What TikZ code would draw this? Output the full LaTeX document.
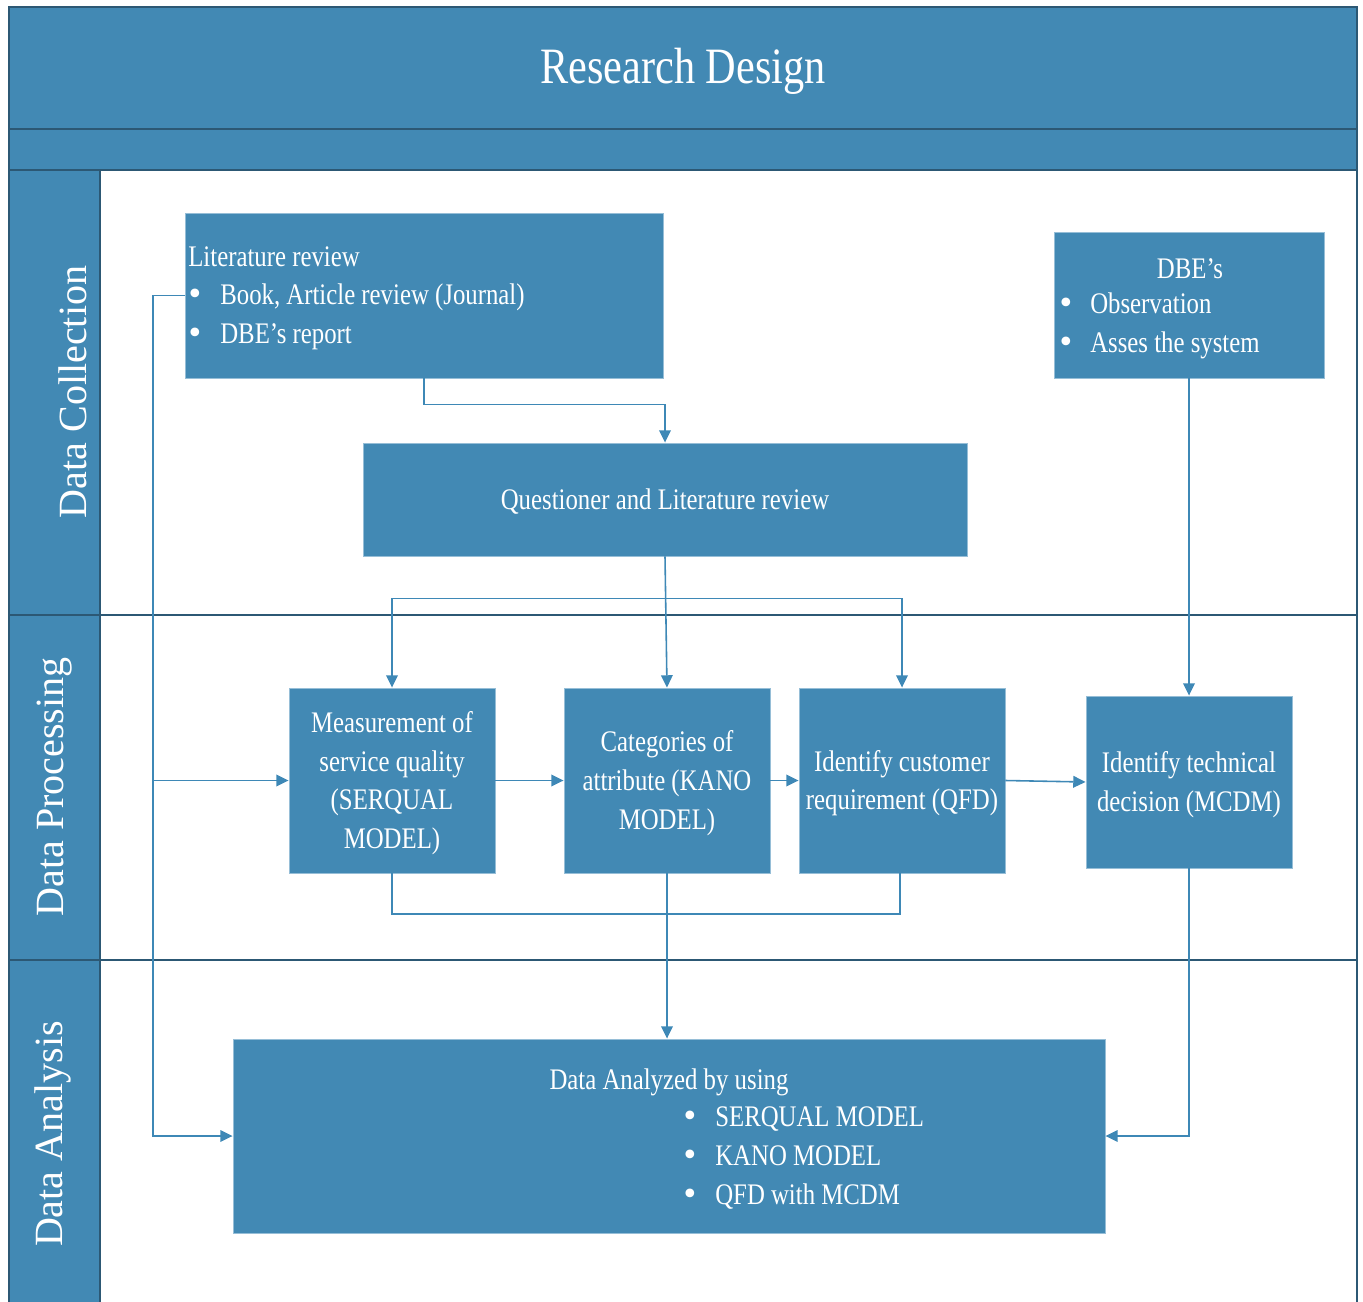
\documentclass[tikz,border=0pt]{standalone}
\usepackage{fontspec}
\setmainfont{Liberation Serif}
\newfontfamily\condfont[FakeStretch=0.83]{Liberation Serif}
\newfontfamily\bulfont{DejaVu Sans}
\usetikzlibrary{arrows.meta,calc}

\definecolor{boxblue}{RGB}{66,137,180}
\definecolor{framedark}{RGB}{44,88,116}
\definecolor{linkblue}{RGB}{62,136,182}
\definecolor{boxedge}{RGB}{150,190,215}

% round bullet with a fixed indent before the item text
\newcommand\bul[1]{\makebox[#1][l]{\hspace{-0.8pt}{\bulfont •}}}

\begin{document}
\begin{tikzpicture}[x=0.02cm,y=-0.02cm,
  sized/.style 2 args={minimum width=#1*0.02cm, minimum height=#2*0.02cm},
  stagebox/.style={rectangle, fill=boxblue, draw=boxedge, line width=0.5pt,
    inner sep=0pt},
  boxtext/.style={text=white, inner sep=0pt, align=center,
    font=\condfont\fontsize{17}{22}\selectfont},
  lanelabel/.style={rotate=90, text=white, inner sep=0pt,
    font=\fontsize{22.8}{24}\selectfont},
  link/.style={draw=linkblue, line width=0.9pt},
  tip/.style={-{Triangle[length=7pt,width=6.6pt]}},
]
\useasboundingbox (0,0) rectangle (1363,1302);

% header bands and lane column
\fill[boxblue] (9,7) rectangle (1357,170);
\fill[boxblue] (9,170) rectangle (100,1302);
\begin{scope}[draw=framedark, line width=0.9pt]
  \draw (9,1302) -- (9,7) -- (1357,7) -- (1357,1302);
  \draw (9,129) -- (1357,129);
  \draw (9,170) -- (1357,170);
  \draw (100,170) -- (100,1302);
  \draw (9,615) -- (1357,615);
  \draw (9,960) -- (1357,960);
\end{scope}

\node[text=white, inner sep=0pt, font=\condfont\fontsize{29}{30}\selectfont]
  (title) at (683,71) {Research Design};

\node[lanelabel] (lanecollect) at (73,392) {Data Collection};
\node[lanelabel] (laneprocess) at (55,787) {Data Processing};
\node[lanelabel] (laneanalysis) at (53,1134) {Data Analysis};

% stage boxes
\node[stagebox, sized={478}{165}] (lit) at (424,295.5) {};
\node[boxtext, anchor=west, align=left] (littext) at (188,298)
  {Literature review\\
   \bul{18.2pt}Book, Article review (Journal)\\
   \bul{18.2pt}DBE’s report};

\node[stagebox, sized={270}{146}] (dbe) at (1189,305) {};
\node[boxtext] (dbehead) at (1190,269) {DBE’s};
\node[boxtext, anchor=west, align=left] (dbetext) at (1059,326)
  {\bul{17.6pt}Observation\\ \bul{17.6pt}Asses the system};

\node[stagebox, sized={604}{113}] (quest) at (665,499.5) {};
\node[boxtext] (questtext) at (665,502) {Questioner and Literature review};

\node[stagebox, sized={206}{185}] (serq) at (392,780.5) {};
\node[boxtext] (serqtext) at (392,783)
  {Measurement of\\service quality\\(SERQUAL\\MODEL)};
\node[stagebox, sized={206}{185}] (kano) at (667,780.5) {};
\node[boxtext] (kanotext) at (667,783)
  {Categories of\\attribute (KANO\\MODEL)};
\node[stagebox, sized={206}{185}] (qfd) at (902,780.5) {};
\node[boxtext] (qfdtext) at (902,783)
  {Identify customer\\requirement (QFD)};
\node[stagebox, sized={206}{172}] (mcdm) at (1189,782) {};
\node[boxtext] (mcdmtext) at (1189,784.5)
  {Identify technical\\decision (MCDM)};

\node[stagebox, sized={872}{194}] (analyze) at (669,1136) {};
\node[boxtext] (anahead) at (669,1082) {Data Analyzed by using};
\node[boxtext, anchor=west, align=left] (anatext) at (683,1158)
  {\bul{18.2pt}SERQUAL MODEL\\ \bul{18.2pt}KANO MODEL\\ \bul{18.2pt}QFD with MCDM};

% connectors
\draw[link,tip] (lit.south) -- ++(0,26) -| (quest.north);

\coordinate (leftrail) at (153,295.5);
\draw[link,tip] (lit.west) -- (leftrail) |- (serq.west);
\draw[link,tip] (leftrail) |- (analyze.west);

\coordinate (qsplit) at ($(quest.south)+(0,42)$);
\draw[link,tip] (quest.south) -- (kano.north);
\draw[link,tip] (qsplit) -| (serq.north);
\draw[link,tip] (qsplit) -| (qfd.north);

\draw[link,tip] (serq.east) -- (kano.west);
\draw[link,tip] (kano.east) -- (qfd.west);
\draw[link,tip] (qfd.east) -- (mcdm.west);
\draw[link,tip] (dbe.south) -- (mcdm.north);

\coordinate (bmerge) at (667,914);
\coordinate (qfdfoot) at (900,873);
\draw[link] (serq.south) |- (bmerge) -| (qfdfoot);
\draw[link,tip] (kano.south) -- (kano.south |- analyze.north);
\draw[link,tip] (mcdm.south) |- (analyze.east);
\end{tikzpicture}
\end{document}
